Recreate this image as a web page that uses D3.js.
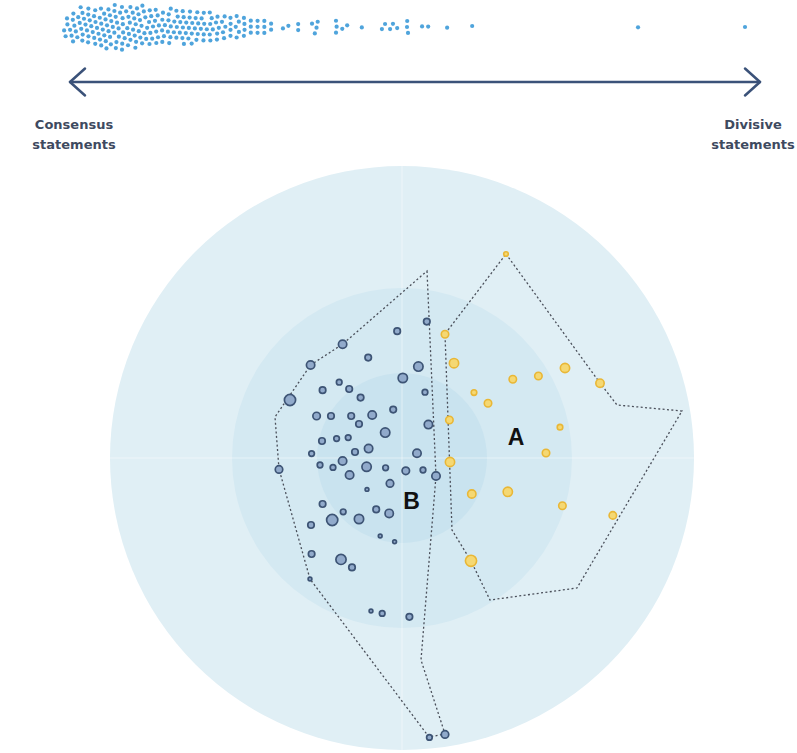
<!DOCTYPE html>
<html lang="en">
<head>
<meta charset="UTF-8">
<script src="https://d3js.org/d3.v7.min.js"></script>
<style>
  body { margin: 0; background: #fff; }
  svg { display: block; }
  .end-label { font-family: 'DejaVu Sans', sans-serif; font-weight: 700; font-size: 13px; fill: #3e4a5f; }
  .cluster-label { font-family: 'Liberation Sans', Arial, sans-serif; font-weight: 700; font-size: 23px; fill: #111; }
</style>
</head>
<body>
<svg id="chart"></svg>
<script>
// --- statement divisiveness (top strip) ---
const swarmBins = [0, 1, 2, 3, 4, 5, 6, 7, 8, 9, 10, 11, 12, 13, 14, 15, 16, 17, 18, 19, 20, 21, 22, 23, 24, 25, 26, 27, 28, 29, 30];
const swarmCounts = [4, 6, 8, 9, 9, 9, 9, 9, 9, 9, 9, 9, 8, 7, 6, 7, 7, 8, 7, 7, 6, 6, 5, 5, 4, 5, 4, 3, 3, 3, 2];
const swarmOutliers = [31.8, 32.5, 34, 34, 36.2, 36.5, 36.6, 36.8, 39.6, 39.6, 39.7, 40.5, 41.2, 43.4,
  46.4, 46.8, 47.6, 48, 48.6, 50.1, 50.1, 50.2, 52.3, 53.2, 56, 59.7, 84.2, 100];
const endLabels = [["Consensus", "statements"], ["Divisive", "statements"]];

// --- participant opinion map ---
const ringRadii = [146, 85, 42.5];
const groupBX = [12.4, -2.4, -29.7, -45.7, -16.9, 8.2, 0.4, -56, -31.4, -39.7, -26.4, -20.7, 11.5, -4.4, -42.7, -35.5,
  -25.4, -14.9, -21.5, 13.2, -8.4, -40, -32.7, -26.9, -16.7, -23.5, -45.2, 7.5, -41, -34.5, -29.7, -17.7, -8.2, 1.9,
  10.5, 17, -61.5, -26.2, -6, -17.5, -39.7, -29.4, -12.9, -6.4, -21.5, -34.9, -45.5, -10.9, -3.7, -45.2, -30.5, -25,
  -46, -15.5, -9.9, 3.7, 13.7, 21.5];
const groupBY = [68.2, 63.4, 56.9, 46.5, 50.2, 45.7, 40, 29, 37.9, 33.9, 34.5, 30.2, 32.9, 24.2, 21, 21,
  21, 21.5, 17, 16.7, 12.7, 8.5, 9.7, 10.2, 4.7, 3, 2.2, 2.4, -3.5, -4.7, -1.5, -4.4, -4.9, -6.4,
  -6, -9, -5.7, -8.5, -12.7, -15.7, -23, -26.9, -25.7, -27.7, -30.5, -31, -33.5, -39, -41.9, -48, -50.7, -54.7,
  -60.5, -76.5, -77.7, -79.4, -139.7, -138.2];
const groupBVotes = [12, 12, 20, 20, 12, 25, 25, 36, 9, 12, 12, 12, 9, 12, 16, 12,
  12, 20, 12, 20, 25, 12, 9, 9, 20, 12, 9, 20, 9, 9, 20, 25, 9, 16,
  9, 20, 16, 20, 16, 4, 12, 9, 12, 20, 25, 36, 12, 4, 4, 12, 30, 12,
  4, 4, 9, 12, 9, 16];
const groupAX = [52, 21.5, 26, 81.5, 68.2, 55.4, 99, 36, 43, 23.7, 79, 72, 24, 34.9, 52.9, 80.2, 105.4, 34.5];
const groupAY = [102, 61.9, 47.4, 45, 41, 39.4, 37.4, 32.7, 27.4, 19, 15.4, 2.5, -2, -18, -16.9, -23.9, -28.7, -51.4];
const groupAVotes = [6, 16, 25, 25, 16, 16, 20, 9, 16, 16, 9, 16, 25, 20, 25, 16, 16, 36];
const hullBX = [12.5, 17, 9.5, 21.5, 13.5, -46, -61.5, -63.5, -45.7, -29.7];
const hullBY = [93.5, -9, -101, -138, -139.5, -60.5, -5.5, 20.5, 46.5, 56.9];
const hullAX = [52, 99, 107.5, 140, 87.5, 44, 34.5, 25, 21.5];
const hullAY = [102, 37.5, 26.5, 23.5, -65, -71, -51.5, -36, 62];
const clusterNames = ["A", "B"];
const clusterX = [57, 4.75];
const clusterY = [10.5, -21.5];

const W = 797, H = 753;
const svg = d3.select("#chart").attr("width", W).attr("height", H);

// ---------- top strip ----------
const sx = d3.scaleLinear().domain([0, 100]).range([68, 745]);
const swarmY = 27;

const nodes = [];
swarmBins.forEach((b, i) => {
  for (let k = 0; k < swarmCounts[i]; k++) nodes.push({ score: b });
});
swarmOutliers.forEach(s => nodes.push({ score: s }));

const sim = d3.forceSimulation(nodes)
  .force("x", d3.forceX(d => sx(d.score)).strength(0.5))
  .force("y", d3.forceY(swarmY).strength(0.07))
  .force("collide", d3.forceCollide(3.0))
  .stop();
for (let i = 0; i < 300; i++) sim.tick();

svg.append("g")
  .selectAll("circle")
  .data(nodes)
  .join("circle")
  .attr("cx", d => d.x)
  .attr("cy", d => d.y)
  .attr("r", 2.1)
  .attr("fill", "#4fa4dc");

// arrow
const arrowY = 82, arrowL = 70, arrowR = 760;
const arrow = svg.append("g")
  .attr("fill", "none")
  .attr("stroke", "#3b5279")
  .attr("stroke-width", 2.5)
  .attr("stroke-linecap", "round")
  .attr("stroke-linejoin", "round");
arrow.append("line").attr("x1", arrowL).attr("x2", arrowR).attr("y1", arrowY).attr("y2", arrowY);
arrow.append("path").attr("d", `M${arrowL + 15},${arrowY - 13.5}L${arrowL},${arrowY}L${arrowL + 15},${arrowY + 13.5}`);
arrow.append("path").attr("d", `M${arrowR - 15},${arrowY - 13.5}L${arrowR},${arrowY}L${arrowR - 15},${arrowY + 13.5}`);

const labelX = [74, 753];
endLabels.forEach((lines, i) => {
  const t = svg.append("text").attr("class", "end-label").attr("text-anchor", "middle");
  lines.forEach((s, j) => {
    t.append("tspan").attr("x", labelX[i]).attr("y", 129 + j * 20).text(s);
  });
});

// ---------- opinion map ----------
const x = d3.scaleLinear().domain([-146, 146]).range([110, 694]);
const y = d3.scaleLinear().domain([-146, 146]).range([750, 166]);
const rs = d3.scaleLinear().domain([0, 146]).range([0, 292]);
const size = d3.scaleSqrt().domain([0, 36]).range([0, 5.6]);

const ringColors = ["#e0eff5", "#d4e9f2", "#c9e3ef"];
svg.append("g")
  .selectAll("circle")
  .data(ringRadii)
  .join("circle")
  .attr("cx", x(0))
  .attr("cy", y(0))
  .attr("r", d => rs(d))
  .attr("fill", (d, i) => ringColors[i]);

const axes = svg.append("g").attr("stroke", "#ffffff").attr("stroke-opacity", 0.45);
axes.append("line").attr("x1", x(0)).attr("x2", x(0)).attr("y1", y(146)).attr("y2", y(-146));
axes.append("line").attr("x1", x(-146)).attr("x2", x(146)).attr("y1", y(0)).attr("y2", y(0));

const hullLine = d3.line().x(d => x(d[0])).y(d => y(d[1])).curve(d3.curveLinearClosed);
const hullB = hullBX.map((v, i) => [v, hullBY[i]]);
const hullA = hullAX.map((v, i) => [v, hullAY[i]]);
svg.append("g")
  .selectAll("path")
  .data([hullB, hullA])
  .join("path")
  .attr("d", hullLine)
  .attr("fill", "none")
  .attr("stroke", "#4a4f5a")
  .attr("stroke-width", 1.3)
  .attr("stroke-dasharray", "2,2.4");

const bPts = groupBX.map((v, i) => ({ x: v, y: groupBY[i], n: groupBVotes[i] }));
svg.append("g")
  .selectAll("circle")
  .data(bPts)
  .join("circle")
  .attr("cx", d => x(d.x))
  .attr("cy", d => y(d.y))
  .attr("r", d => size(d.n))
  .attr("fill", "#91aacb")
  .attr("stroke", "#3d5475")
  .attr("stroke-width", 1.7);

const aPts = groupAX.map((v, i) => ({ x: v, y: groupAY[i], n: groupAVotes[i] }));
svg.append("g")
  .selectAll("circle")
  .data(aPts)
  .join("circle")
  .attr("cx", d => x(d.x))
  .attr("cy", d => y(d.y))
  .attr("r", d => size(d.n))
  .attr("fill", "#f5d873")
  .attr("stroke", "#e9b736")
  .attr("stroke-width", 1.6);

svg.append("g")
  .selectAll("text")
  .data(clusterNames)
  .join("text")
  .attr("class", "cluster-label")
  .attr("x", (d, i) => x(clusterX[i]))
  .attr("y", (d, i) => y(clusterY[i]))
  .attr("text-anchor", "middle")
  .attr("dy", "0.36em")
  .text(d => d);
</script>
</body>
</html>
